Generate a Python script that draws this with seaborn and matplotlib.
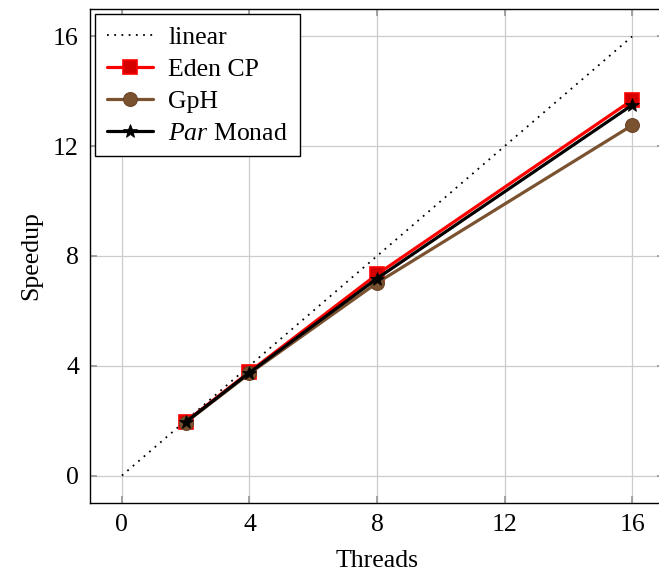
import pandas as pd
import seaborn as sns
import matplotlib.pyplot as plt

# values
threads = [2, 4, 8, 16]
eden_cp = [1.96, 3.78, 7.33, 13.68]
gph = [1.93, 3.72, 7.02, 12.76]
par_monad = [1.95, 3.75, 7.18, 13.5]
linear_x = [0, 16]
linear_y = [0, 16]

sns.set_theme(style="ticks")
plt.rcParams['font.family'] = ['Liberation Serif', 'DejaVu Serif']
plt.rcParams['mathtext.fontset'] = 'custom'
plt.rcParams['mathtext.rm'] = 'Liberation Serif'
plt.rcParams['mathtext.it'] = 'Liberation Serif:italic'
plt.rcParams['text.color'] = 'black'
plt.rcParams['axes.labelcolor'] = 'black'

fig = plt.figure(figsize=(6.59, 5.77), dpi=100)
ax = fig.add_axes([90 / 659, 1 - 503 / 577, 574 / 659, 494 / 577])

sns.lineplot(x=linear_x, y=linear_y, ax=ax, color='black', linestyle=(0, (1, 3)),
             linewidth=1.3, label='linear')
sns.lineplot(x=threads, y=eden_cp, ax=ax, color='#ff0000', linewidth=2.3, marker='s',
             markersize=9.5, markerfacecolor='#d40000', markeredgecolor='#ff0000',
             markeredgewidth=1.2, label='Eden CP')
sns.lineplot(x=threads, y=gph, ax=ax, color='#7a5230', linewidth=2.3, marker='o',
             markersize=10, markerfacecolor='#7a5230', markeredgecolor='#6a4526',
             label='GpH')
sns.lineplot(x=threads, y=par_monad, ax=ax, color='black', linewidth=2.3, marker='*',
             markersize=10, markerfacecolor='black', markeredgecolor='black',
             markeredgewidth=0.5, label=r'$\it{Par}$ Monad')

ax.set_xlim(-1, 17)
ax.set_ylim(-1, 17)
ax.set_xticks([0, 4, 8, 12, 16])
ax.set_yticks([0, 4, 8, 12, 16])
ax.grid(True, color='#cccccc', linewidth=0.9)
ax.set_axisbelow(True)
for s in ax.spines.values():
    s.set_color('black')
    s.set_linewidth(1.0)
ax.tick_params(direction='in', length=5, color='#999999', top=True, right=True,
               labelsize=18.5, labelcolor='black', pad=8)
ax.set_xlabel('Threads', fontsize=18.5, labelpad=10)
ax.set_ylabel('Speedup', fontsize=18.5, labelpad=8)

leg = ax.legend(loc='upper left', fontsize=18.5, frameon=True, fancybox=False,
                edgecolor='black', framealpha=1, handlelength=1.8, borderpad=0.45,
                labelspacing=0.35, handletextpad=0.6, borderaxespad=0.2)
leg.get_frame().set_linewidth(1.0)

fig.savefig('out.png', dpi=100)
